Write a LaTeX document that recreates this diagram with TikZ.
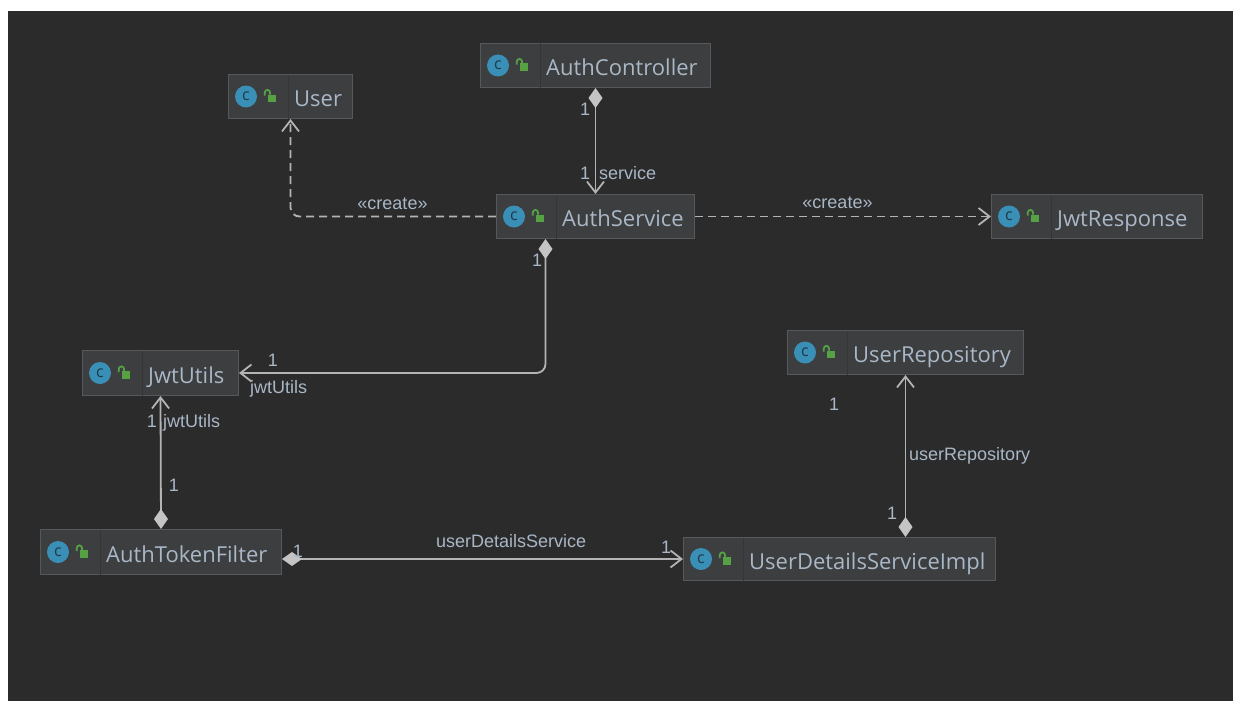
\documentclass[tikz,border=0pt]{standalone}
\usepackage{fontspec}
\setmainfont{Open Sans}
\newfontfamily\lblfont{Liberation Sans}
\usetikzlibrary{arrows.meta}
\definecolor{bgc}{HTML}{2B2B2B}
\definecolor{boxfill}{HTML}{3C3E40}
\definecolor{boxdraw}{HTML}{56595B}
\definecolor{divc}{HTML}{343638}
\definecolor{txtc}{HTML}{A9B7C6}
\definecolor{linec}{HTML}{B4B4B4}
\definecolor{diamc}{HTML}{C4C4C4}
\definecolor{iconbg}{HTML}{3A8FB7}
\definecolor{icontxt}{HTML}{1E3B4A}
\definecolor{lockc}{HTML}{55A144}
\tikzset{
  clsbox/.style={draw=boxdraw, fill=boxfill, line width=1pt, inner sep=0pt, rectangle},
  divline/.style={draw=divc, line width=0.8pt},
  iconc/.style={circle, fill=iconbg, minimum size=22pt, inner sep=0pt, text=icontxt,
     font=\fontsize{16}{16}\selectfont},
  clsname/.style={text=txtc, inner sep=0pt, font=\fontsize{22}{24}\selectfont},
  lbl/.style={text=txtc, inner sep=0pt, font=\lblfont\fontsize{18}{20}\selectfont},
  conn/.style={draw=linec, line width=1.8pt},
  dashconn/.style={conn, dash pattern=on 8pt off 5pt},
  openarr/.style={-{Straight Barb[length=11pt,width=17pt,line width=1.8pt]}},
  comp/.style={{Diamond[length=20pt,width=14pt,color=diamc,fill=diamc]}-{Straight Barb[length=11pt,width=17pt,line width=1.8pt]}}
}
\newcommand\umlclass[6]{%
  \node[clsbox, minimum width=#4pt, minimum height=#5pt, anchor=north west] (#1) at (#2,#3) {};
  \draw[divline] ([xshift=60pt,yshift=-0.5pt]#1.north west) -- ([xshift=60pt,yshift=0.5pt]#1.south west);
  \node[iconc] (#1-ic) at ([xshift=18pt]#1.west) {c};
  \begin{scope}[shift={(#1.west)}]
    \fill[lockc] (40,-2) rectangle (48,5.5);
    \draw[lockc, line width=1.8pt] (42,-2) -- (42,-4) arc[start angle=0,end angle=180,radius=2.6pt] -- (36.8,-1);
  \end{scope}
  \node[clsname, anchor=base west] (#1-t) at ([xshift=66pt,yshift=-10pt]#1.west) {#6};
}
\begin{document}
\begin{tikzpicture}[x=1pt,y=-1pt]
\useasboundingbox (0,0) rectangle (1233,701);
\fill[white] (0,0) rectangle (1233,701);
\fill[bgc] (8,11) rectangle (1233,701);

\umlclass{user}{228}{74}{124}{44}{User}
\umlclass{authctrl}{480}{43}{230}{44}{AuthController}
\umlclass{authsvc}{496}{194}{198}{44}{AuthService}
\umlclass{jwtresp}{991}{194}{211}{44}{JwtResponse}
\umlclass{jwtutils}{82}{350}{156}{45}{JwtUtils}
\umlclass{urepo}{787}{330}{236}{44}{UserRepository}
\umlclass{atf}{40}{529}{241}{45}{AuthTokenFilter}
\umlclass{udsi}{683}{537}{312}{43}{UserDetailsServiceImpl}

% connectors
\draw[conn, comp] (authctrl.south) -- (authsvc.north);
\draw[dashconn, openarr, rounded corners=9pt] (authsvc.west) -| (user.south);
\draw[dashconn, openarr] (authsvc.east) -- (jwtresp.west);
\draw[conn, comp, rounded corners=9pt] ([xshift=-50pt]authsvc.south) |- (jwtutils.east);
\draw[conn, comp] (atf.north) -- (jwtutils.south);
\draw[conn, comp] (atf.east |- udsi.west) -- (udsi.west);
\draw[conn, comp] (udsi.north -| urepo.south) -- (urepo.south);

% labels
\node[lbl, anchor=base] (l1) at (585,115) {1};
\node[lbl, anchor=base] (l2) at (585,179) {1};
\node[lbl, anchor=base west] (l3) at (599,179) {service};
\node[lbl, anchor=base] (l4) at (392.5,209) {«create»};
\node[lbl, anchor=base] (l5) at (837.5,208) {«create»};
\node[lbl, anchor=base] (l6) at (537,266) {1};
\node[lbl, anchor=base] (l7) at (273,366) {1};
\node[lbl, anchor=base west] (l8) at (250,393) {jwtUtils};
\node[lbl, anchor=base] (l9) at (152,427) {1};
\node[lbl, anchor=base west] (l10) at (163,427) {jwtUtils};
\node[lbl, anchor=base] (l11) at (174,491) {1};
\node[lbl, anchor=base] (l12) at (298,557) {1};
\node[lbl, anchor=base west] (l13) at (436,547) {userDetailsService};
\node[lbl, anchor=base] (l14) at (666,553) {1};
\node[lbl, anchor=base] (l15) at (834,410) {1};
\node[lbl, anchor=base west] (l16) at (909,460) {userRepository};
\node[lbl, anchor=base] (l17) at (892,519) {1};
\end{tikzpicture}
\end{document}
